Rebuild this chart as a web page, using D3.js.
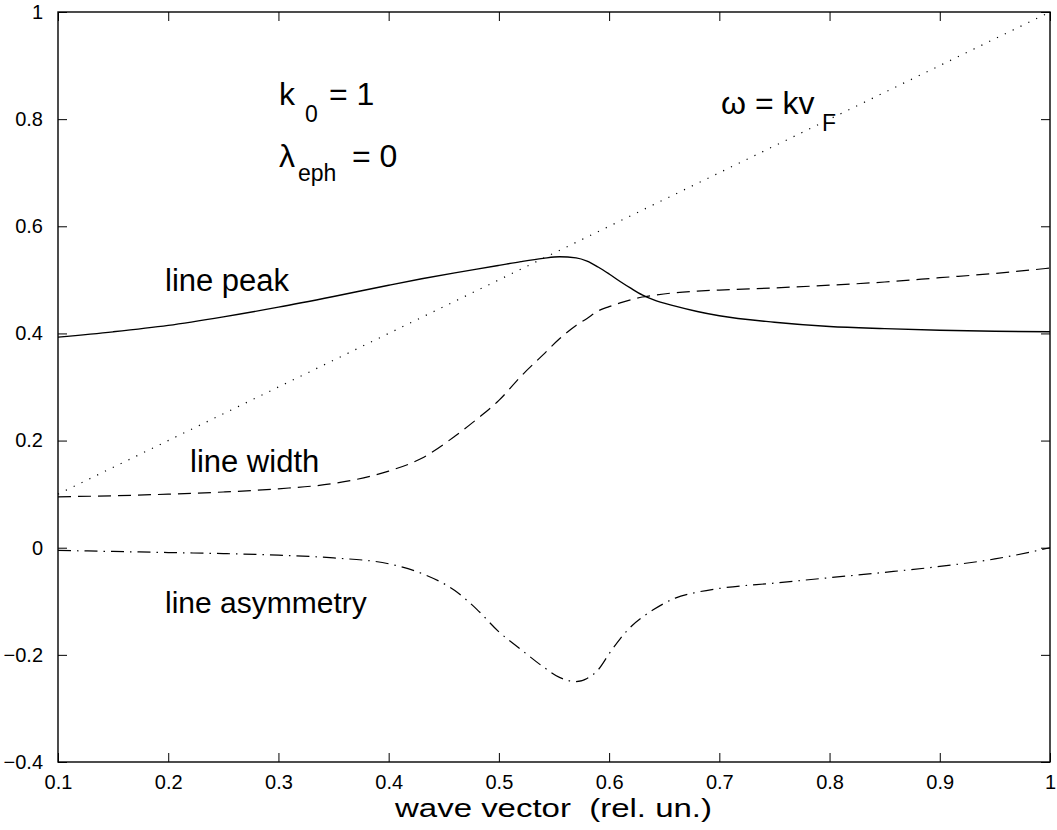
<!DOCTYPE html>
<html>
<head>
<meta charset="utf-8">
<script src="https://cdn.jsdelivr.net/npm/d3@7"></script>
<style>
  html, body { margin: 0; padding: 0; background: #fff; }
  svg { display: block; font-family: "Liberation Sans", Arial, Helvetica, sans-serif; }
  .pre { white-space: pre; }
</style>
</head>
<body>
<svg id="chart" width="1057" height="830"></svg>
<script>
// Wave vector samples (rel. units)
const waveVector = [0.10, 0.15, 0.20, 0.25, 0.30, 0.35, 0.40, 0.43, 0.46, 0.48, 0.50, 0.52, 0.54, 0.555, 0.57, 0.58, 0.59, 0.60, 0.61, 0.62, 0.63, 0.64, 0.66, 0.68, 0.70, 0.75, 0.80, 0.85, 0.90, 0.95, 1.00];

// Line peak position
const linePeak = [0.393, 0.403, 0.415, 0.431, 0.449, 0.469, 0.490, 0.502, 0.513, 0.520, 0.527, 0.534, 0.540, 0.543, 0.541, 0.535, 0.524, 0.511, 0.497, 0.484, 0.472, 0.463, 0.451, 0.441, 0.433, 0.421, 0.413, 0.409, 0.406, 0.404, 0.403];

// Line width
const lineWidth = [0.095, 0.097, 0.100, 0.104, 0.110, 0.120, 0.143, 0.167, 0.208, 0.240, 0.275, 0.320, 0.360, 0.390, 0.415, 0.428, 0.442, 0.450, 0.457, 0.463, 0.468, 0.471, 0.476, 0.479, 0.481, 0.485, 0.490, 0.496, 0.504, 0.512, 0.522];

// Line asymmetry
const lineAsymmetry = [-0.005, -0.007, -0.009, -0.011, -0.014, -0.019, -0.030, -0.048, -0.080, -0.115, -0.157, -0.190, -0.222, -0.242, -0.250, -0.244, -0.228, -0.198, -0.170, -0.147, -0.130, -0.116, -0.094, -0.083, -0.076, -0.066, -0.056, -0.046, -0.035, -0.021, 0.000];

// Free-particle dispersion omega = k v_F (endpoints)
const dispersionK = [0.1, 1.0];
const dispersionOmega = [0.1, 1.0];

const xTicks = [0.1, 0.2, 0.3, 0.4, 0.5, 0.6, 0.7, 0.8, 0.9, 1];
const yTicks = [-0.4, -0.2, 0, 0.2, 0.4, 0.6, 0.8, 1];

const svg = d3.select("#chart");
const plotLeft = 58, plotRight = 1050, plotTop = 12, plotBottom = 762;

const x = d3.scaleLinear().domain([0.1, 1]).range([plotLeft, plotRight]);
const y = d3.scaleLinear().domain([-0.4, 1]).range([plotBottom, plotTop]);

const fmt = v => (v === 0 ? "0" : (v === 1 ? "1" : d3.format(".1f")(v))).replace("-", "\u2212");

// Axes with inward ticks on all four sides
const tickLen = 9;
svg.append("g").attr("transform", `translate(0,${plotBottom})`)
  .call(d3.axisBottom(x).tickValues(xTicks).tickSizeInner(-tickLen).tickSizeOuter(0).tickPadding(13).tickFormat(fmt))
  .call(g => g.select(".domain").remove())
  .call(g => g.selectAll("text").attr("font-size", 20).attr("fill", "#000"));
svg.append("g").attr("transform", `translate(0,${plotTop})`)
  .call(d3.axisTop(x).tickValues(xTicks).tickSizeInner(-tickLen).tickSizeOuter(0).tickFormat(""))
  .call(g => g.select(".domain").remove());
svg.append("g").attr("transform", `translate(${plotLeft},0)`)
  .call(d3.axisLeft(y).tickValues(yTicks).tickSizeInner(-tickLen).tickSizeOuter(0).tickPadding(15).tickFormat(fmt))
  .call(g => g.select(".domain").remove())
  .call(g => g.selectAll("text").attr("font-size", 20).attr("fill", "#000"));
svg.append("g").attr("transform", `translate(${plotRight},0)`)
  .call(d3.axisRight(y).tickValues(yTicks).tickSizeInner(-tickLen).tickSizeOuter(0).tickFormat(""))
  .call(g => g.select(".domain").remove());
svg.selectAll(".tick line").attr("stroke", "#000").attr("stroke-width", 1);

// Plot frame
svg.append("rect")
  .attr("x", plotLeft).attr("y", plotTop)
  .attr("width", plotRight - plotLeft).attr("height", plotBottom - plotTop)
  .attr("fill", "none").attr("stroke", "#000").attr("stroke-width", 1.4);

const line = d3.line().curve(d3.curveMonotoneX);
const curve = vals => line(waveVector.map((k, i) => [x(k), y(vals[i])]));

const plot = svg.append("g").attr("fill", "none").attr("stroke", "#000");

plot.append("path")
  .attr("d", d3.line()(dispersionK.map((k, i) => [x(k), y(dispersionOmega[i])])))
  .attr("stroke-width", 1.2).attr("stroke-dasharray", "1.2,7.5");

plot.append("path").attr("d", curve(linePeak)).attr("stroke-width", 1.4);
plot.append("path").attr("d", curve(lineWidth)).attr("stroke-width", 1.2).attr("stroke-dasharray", "13,7");
plot.append("path").attr("d", curve(lineAsymmetry)).attr("stroke-width", 1.2).attr("stroke-dasharray", "13,6,1.5,6");

// Annotations
const ann = svg.append("g").attr("fill", "#000");
const label = (tx, ty, str, size) => ann.append("text").attr("x", tx).attr("y", ty).attr("font-size", size).text(str);

label(165, 291, "line peak", 31);
label(190, 472, "line width", 31);
label(165, 613, "line asymmetry", 30);

// k_0 = 1
label(279, 105, "k", 32);
label(305, 122, "0", 23);
label(329, 105, "= 1", 32);

// lambda_eph = 0
label(279, 167, "\u03bb", 32);
label(298, 181, "eph", 23);
label(352, 167, "= 0", 32);

// omega = k v_F
label(721, 114, "\u03c9 = kv", 32);
label(822, 131, "F", 23);

// Axis title (wide lettering)
svg.append("text")
  .attr("class", "pre")
  .attr("x", 395).attr("y", 817)
  .attr("font-size", 25)
  .attr("textLength", 317).attr("lengthAdjust", "spacingAndGlyphs")
  .text("wave vector  (rel. un.)");
</script>
</body>
</html>
